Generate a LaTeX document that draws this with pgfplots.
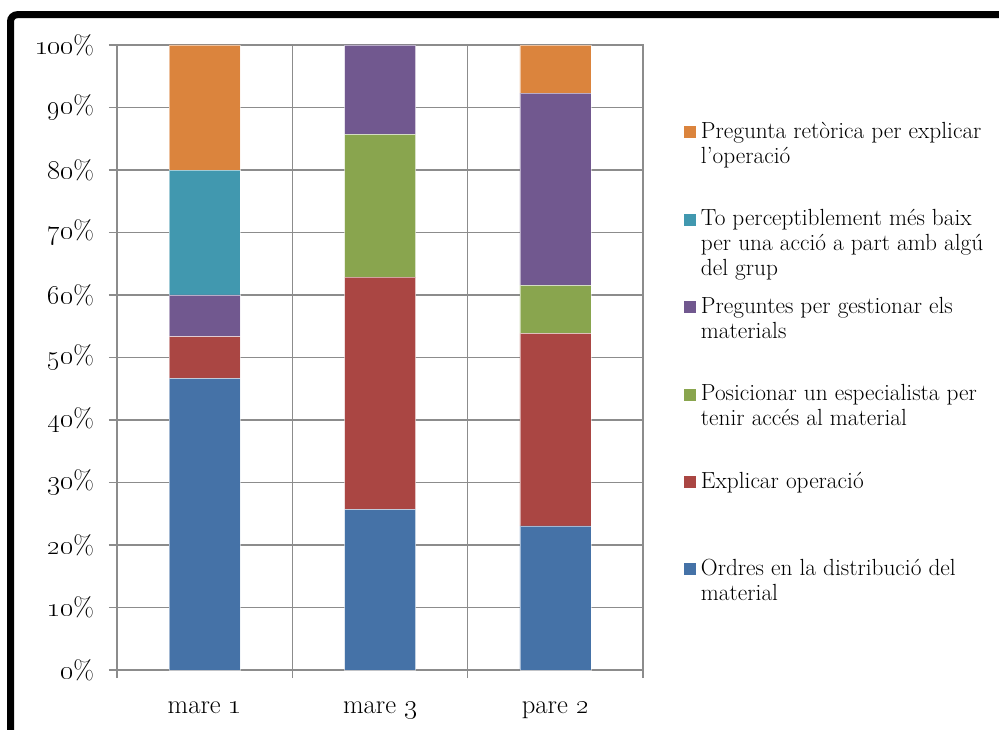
\documentclass[border=0pt]{standalone}
\usepackage{pgfplots}
\pgfplotsset{compat=1.18}
\definecolor{cblue}{HTML}{4572A7}
\definecolor{cred}{HTML}{AA4643}
\definecolor{cgreen}{HTML}{89A54E}
\definecolor{cpurple}{HTML}{71588F}
\definecolor{cteal}{HTML}{4198AF}
\definecolor{corange}{HTML}{DB843D}
\definecolor{cgrid}{HTML}{8C8C8C}
\newcommand{\twol}[2]{\vtop{\hbox{#1}\hbox{#2}}}
\newcommand{\threel}[3]{\vtop{\hbox{#1}\hbox{#2}\hbox{#3}}}
\begin{document}
\begin{tikzpicture}
\useasboundingbox (0,0) rectangle (749.25pt,546.75pt);
\begin{axis}[
  at={(87.75pt,44.25pt)}, anchor=south west,
  scale only axis, width=394.5pt, height=468.75pt,
  ybar stacked, bar width=53.25pt,
  xmin=-0.5, xmax=2.5, ymin=0, ymax=100,
  xtick={0,1,2},
  xticklabels={mare \oldstylenums{1}, mare \oldstylenums{3}, pare \oldstylenums{2}},
  minor xtick={-0.5,0.5,1.5,2.5},
  xminorgrids=true, ymajorgrids=true,
  ytick={0,10,...,100},
  yticklabels={\oldstylenums{0}\%,\oldstylenums{10}\%,\oldstylenums{20}\%,\oldstylenums{30}\%,\oldstylenums{40}\%,\oldstylenums{50}\%,\oldstylenums{60}\%,\oldstylenums{70}\%,\oldstylenums{80}\%,\oldstylenums{90}\%,\oldstylenums{100}\%},
  tick align=outside,
  xtick pos=bottom, ytick pos=left,
  major tick length=6pt, minor tick length=6pt,
  major x tick style={draw=none},
  tick style={cgrid, line width=1.2pt},
  grid style={cgrid, line width=1.2pt},
  minor grid style={cgrid, line width=1.2pt},
  axis line style={cgrid, line width=1.2pt},
  tick label style={font=\fontsize{20}{23}\selectfont},
  xticklabel style={anchor=base, yshift=-26.75pt},
  yticklabel style={xshift=-7.7pt},
  reverse legend,
  legend image code/.code={\fill[#1,draw=none] (0pt,0pt) rectangle (9pt,9pt);},
  legend style={at={(axis description cs:1.078,0.877)}, anchor=north west,
    draw=none, fill=none, inner sep=0pt, row sep=0pt, column sep=3.5pt,
    font=\fontsize{17.5}{18.75}\selectfont,
    cells={anchor=base west},
    nodes={inner sep=0pt, text height=12pt, text depth=53.6pt}},
]
\addplot[fill=cblue, draw=white, draw opacity=0.5, line width=0.4pt] coordinates {(0,46.667) (1,25.714) (2,23.077)};
\addplot[fill=cred, draw=white, draw opacity=0.5, line width=0.4pt] coordinates {(0,6.667) (1,37.143) (2,30.769)};
\addplot[fill=cgreen, draw=white, draw opacity=0.5, line width=0.4pt] coordinates {(0,0) (1,22.857) (2,7.692)};
\addplot[fill=cpurple, draw=white, draw opacity=0.5, line width=0.4pt] coordinates {(0,6.667) (1,14.286) (2,30.769)};
\addplot[fill=cteal, draw=white, draw opacity=0.5, line width=0.4pt] coordinates {(0,20) (1,0) (2,0)};
\addplot[fill=corange, draw=white, draw opacity=0.5, line width=0.4pt] coordinates {(0,20) (1,0) (2,7.692)};
\addlegendentry{\twol{Ordres en la distribució del}{material}}
\addlegendentry{Explicar operació}
\addlegendentry{\twol{Posicionar un especialista per}{tenir accés al material}}
\addlegendentry{\twol{Preguntes per gestionar els}{materials}}
\addlegendentry{\threel{To perceptiblement més baix}{per una acció a part amb algú}{del grup}}
\addlegendentry{\twol{Pregunta retòrica per explicar}{l’operació}}
\end{axis}
\draw[line width=5.25pt, rounded corners=5pt] (7.875pt,-5pt) -- (7.875pt,535.7pt) -- (760pt,535.7pt);
\end{tikzpicture}
\end{document}
